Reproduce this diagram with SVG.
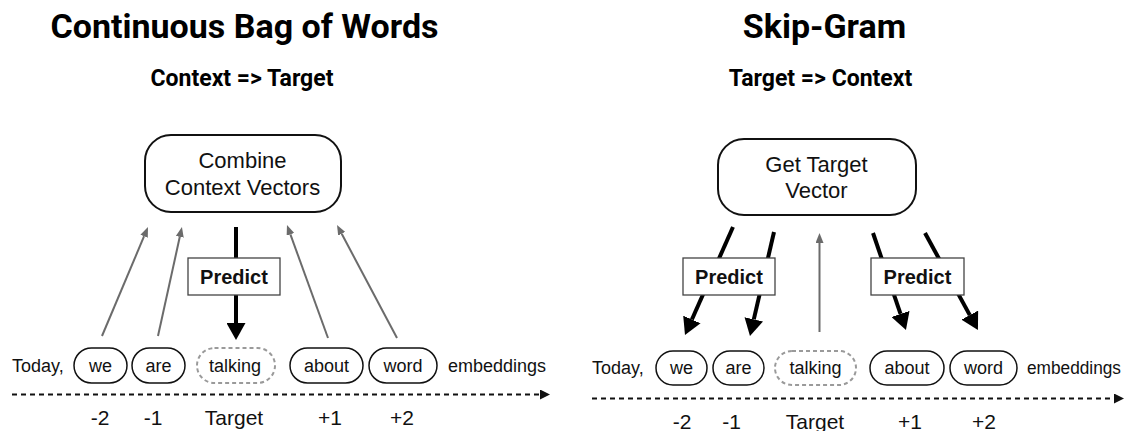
<svg xmlns="http://www.w3.org/2000/svg" width="1124" height="431" viewBox="0 0 1124 431">
<style>
.title{font-family:Roboto,"Liberation Sans",sans-serif;font-weight:700;font-size:34px;fill:#000;text-anchor:middle}
.sub{font-family:Roboto,"Liberation Sans",sans-serif;font-weight:700;font-size:23px;fill:#000;text-anchor:middle}
.box{fill:#fff;stroke:#111;stroke-width:2}
.boxt{font-family:"Liberation Sans",Arial,sans-serif;font-size:22px;fill:#111;text-anchor:middle}
.pill{fill:#fff;stroke:#111;stroke-width:1.5}
.pilld{fill:#fff;stroke:#9a9a9a;stroke-width:2;stroke-dasharray:4 3}
.word{font-family:"Liberation Sans",Arial,sans-serif;font-size:18px;fill:#111;text-anchor:middle}
.plain{font-family:"Liberation Sans",Arial,sans-serif;font-size:18px;fill:#111}
.num{font-family:"Liberation Sans",Arial,sans-serif;font-size:21px;fill:#111;text-anchor:middle}
.pred{fill:#fff;stroke:#444;stroke-width:1.3}
.predt{font-family:"Liberation Sans",Arial,sans-serif;font-weight:700;font-size:20px;fill:#111;text-anchor:middle}
.gray{stroke:#6b6b6b;stroke-width:2;fill:none;marker-end:url(#ga)}
.black{stroke:#000;stroke-width:4;fill:none;marker-end:url(#ba)}
.axis{stroke:#111;stroke-width:2;stroke-dasharray:5 4;fill:none;marker-end:url(#aa)}
</style>
<defs>
<marker id="ga" markerUnits="userSpaceOnUse" markerWidth="10" markerHeight="8" refX="0" refY="4" orient="auto"><path d="M0,0 L10,4 L0,8 Z" fill="#6b6b6b"/></marker>
<marker id="ba" markerUnits="userSpaceOnUse" markerWidth="17" markerHeight="19" refX="0" refY="9.5" orient="auto"><path d="M0,0 L17,9.5 L0,19 Z" fill="#000"/></marker>
<marker id="aa" markerUnits="userSpaceOnUse" markerWidth="10" markerHeight="10" refX="0" refY="5" orient="auto"><path d="M0,0 L10,5 L0,10 Z" fill="#111"/></marker>
</defs>
<rect width="1124" height="431" fill="#fff"/>

<g id="titles">
<text class="title" x="244.5" y="38">Continuous Bag of Words</text>
<text class="sub" x="242" y="86">Context =&gt; Target</text>
<text class="title" x="824.5" y="38">Skip-Gram</text>
<text class="sub" x="820.5" y="86">Target =&gt; Context</text>
</g>

<g id="connectors">
<line class="gray" x1="102" y1="336" x2="144.1" y2="236.2"/>
<line class="gray" x1="158" y1="336" x2="179.8" y2="236.8"/>
<line class="gray" x1="328" y1="338" x2="290.4" y2="234.4"/>
<line class="gray" x1="397" y1="338" x2="341.7" y2="233.8"/>
<line class="black" x1="236" y1="227" x2="236" y2="323"/>
<line class="axis" x1="12" y1="394.5" x2="540" y2="394.5"/>

<line class="black" x1="733" y1="227" x2="691.9" y2="319.5"/>
<line class="black" x1="774" y1="232" x2="753.8" y2="319.4"/>
<line class="black" x1="873" y1="233" x2="900.5" y2="313.9"/>
<line class="black" x1="925" y1="233" x2="969.8" y2="315.1"/>
<line class="gray" x1="819.5" y1="332" x2="819.5" y2="243"/>
<line class="axis" x1="592" y1="398.5" x2="1114" y2="398.5"/>
</g>

<g id="cbow-combine">
<rect class="box" x="145" y="135" width="196" height="77" rx="26"/>
<text class="boxt" x="242.5" y="168">Combine</text>
<text class="boxt" x="242.5" y="195">Context Vectors</text>
</g>
<g id="cbow-predict">
<rect class="pred" x="188" y="258" width="92" height="37"/>
<text class="predt" x="234" y="284">Predict</text>
</g>
<g id="cbow-today"><text class="plain" x="12" y="371.5">Today,</text></g>
<g id="cbow-we"><rect class="pill" x="74" y="348" width="53" height="35" rx="17.5"/><text class="word" x="100.5" y="371.5">we</text></g>
<g id="cbow-are"><rect class="pill" x="132" y="348" width="53" height="35" rx="17.5"/><text class="word" x="158.5" y="371.5">are</text></g>
<g id="cbow-talking"><rect class="pilld" x="197" y="348" width="78" height="35" rx="17.5"/><text class="word" x="235" y="371.5">talking</text></g>
<g id="cbow-about"><rect class="pill" x="290" y="348" width="73" height="35" rx="17.5"/><text class="word" x="326.5" y="371.5">about</text></g>
<g id="cbow-word"><rect class="pill" x="369" y="348" width="68" height="35" rx="17.5"/><text class="word" x="403" y="371.5">word</text></g>
<g id="cbow-embeddings"><text class="plain" x="448" y="371.5">embeddings</text></g>
<g id="cbow-positions">
<text class="num" x="100" y="425">-2</text>
<text class="num" x="153" y="425">-1</text>
<text class="num" x="234" y="425">Target</text>
<text class="num" x="330" y="425">+1</text>
<text class="num" x="402" y="425">+2</text>
</g>

<g id="sg-target">
<rect class="box" x="718" y="139" width="198" height="76" rx="26"/>
<text class="boxt" x="816.5" y="172">Get Target</text>
<text class="boxt" x="816.5" y="198">Vector</text>
</g>
<g id="sg-predict-left">
<rect class="pred" x="683" y="258" width="92" height="37"/>
<text class="predt" x="729" y="284">Predict</text>
</g>
<g id="sg-predict-right">
<rect class="pred" x="871" y="258" width="93" height="37"/>
<text class="predt" x="917.5" y="284">Predict</text>
</g>
<g id="sg-today"><text class="plain" x="592" y="374">Today,</text></g>
<g id="sg-we"><rect class="pill" x="656" y="351" width="51" height="34" rx="17"/><text class="word" x="681.5" y="374">we</text></g>
<g id="sg-are"><rect class="pill" x="713" y="351" width="51" height="34" rx="17"/><text class="word" x="738.5" y="374">are</text></g>
<g id="sg-talking"><rect class="pilld" x="775" y="351" width="81" height="34" rx="17"/><text class="word" x="815.5" y="374">talking</text></g>
<g id="sg-about"><rect class="pill" x="870" y="351" width="74" height="34" rx="17"/><text class="word" x="907" y="374">about</text></g>
<g id="sg-word"><rect class="pill" x="950" y="351" width="67" height="34" rx="17"/><text class="word" x="983.5" y="374">word</text></g>
<g id="sg-embeddings"><text class="plain" x="1027" y="374" textLength="94" lengthAdjust="spacingAndGlyphs">embeddings</text></g>
<g id="sg-positions">
<text class="num" x="682" y="429">-2</text>
<text class="num" x="731.5" y="429">-1</text>
<text class="num" x="815" y="429">Target</text>
<text class="num" x="910" y="429">+1</text>
<text class="num" x="984" y="429">+2</text>
</g>
</svg>
